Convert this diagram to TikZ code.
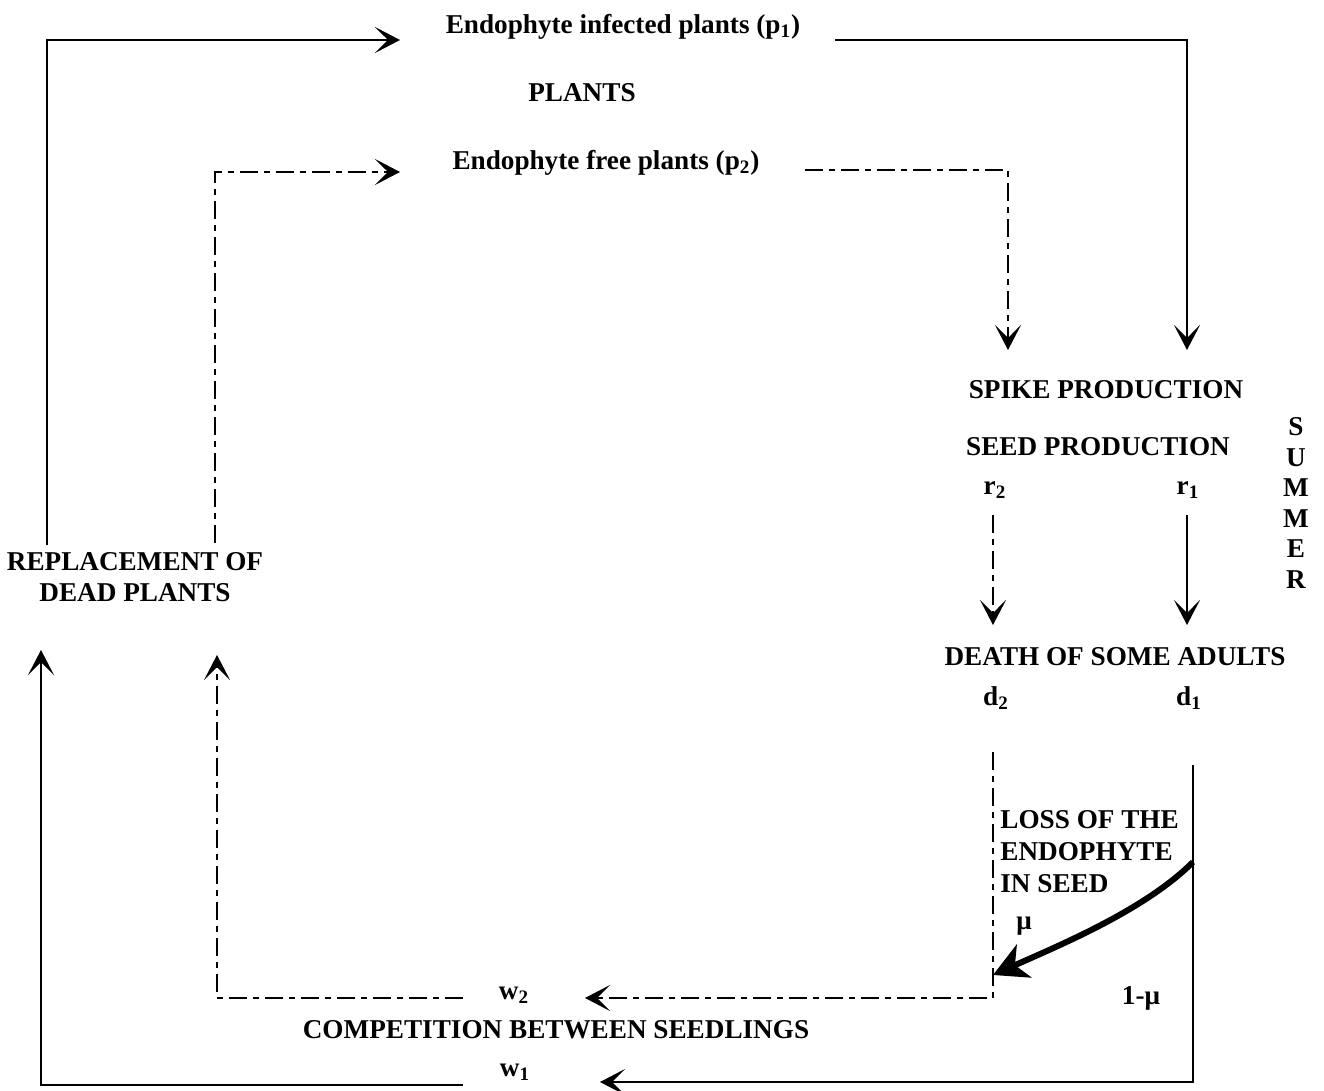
\documentclass[tikz,border=0pt]{standalone}
\usepackage{fontspec}
\setmainfont{Liberation Serif}
\usetikzlibrary{arrows.meta}

\begin{document}
\begin{tikzpicture}[x=0.5pt, y=-0.5pt,
	lbl/.style={font=\bfseries\fontsize{13.6}{15.3}\selectfont, inner sep=1pt},
	solidln/.style={line width=0.9pt},
	dashln/.style={line width=0.9pt, dash pattern=on 9pt off 3pt on 3pt off 3pt},
	tip/.style={-{Stealth[length=12.5pt, width=13pt, inset=6.5pt]}}]
	\useasboundingbox (0,0) rectangle (1324,1091);

	%Nodes
	\node[lbl] (infected) at (623,27) {Endophyte infected plants (p\textsubscript{1})};
	\node[lbl] (plants) at (582,93) {PLANTS};
	\node[lbl] (free) at (606,163) {Endophyte free plants (p\textsubscript{2})};
	\node[lbl] (spike) at (1106,390) {SPIKE PRODUCTION};
	\node[lbl] (seed) at (1098,447) {SEED PRODUCTION};
	\node[lbl] (r2) at (995,490) {r\textsubscript{2}};
	\node[lbl] (r1) at (1188,490) {r\textsubscript{1}};
	\node[lbl, align=center] (summer) at (1296,503) {S\\U\\M\\M\\E\\R};
	\node[lbl] (death) at (1115,657) {DEATH OF SOME ADULTS};
	\node[lbl] (d2) at (996,698) {d\textsubscript{2}};
	\node[lbl] (d1) at (1189,698) {d\textsubscript{1}};
	\node[lbl, align=left, anchor=west, font=\bfseries\fontsize{13.6}{16}\selectfont] (loss) at (998,852) {LOSS OF THE\\ENDOPHYTE\\IN SEED};
	\node[lbl] (mu) at (1024,926) {μ};
	\node[lbl] (notmu) at (1141,998) {1-μ};
	\node[lbl] (w2) at (514,995) {w\textsubscript{2}};
	\node[lbl] (comp) at (556,1030) {COMPETITION BETWEEN SEEDLINGS};
	\node[lbl] (w1) at (515,1072) {w\textsubscript{1}};
	\node[lbl, align=center] (repl) at (135,577) {REPLACEMENT OF\\DEAD PLANTS};

	%Ends of the connectors
	\coordinate (inA) at (400,40);
	\coordinate (inB) at (835,40);
	\coordinate (frA) at (400,172);
	\coordinate (frB) at (805,170);
	\coordinate (spA) at (1008,350);
	\coordinate (spB) at (1187,350);
	\coordinate (rA) at (993,515);
	\coordinate (rB) at (1187,515);
	\coordinate (deA) at (993,625);
	\coordinate (deB) at (1187,625);
	\coordinate (dA) at (993,752);
	\coordinate (dB) at (1193,765);
	\coordinate (wA) at (585,998);
	\coordinate (wB) at (600,1082);
	\coordinate (cA) at (463,998);
	\coordinate (cB) at (463,1085);
	\coordinate (reA) at (217,655);
	\coordinate (reB) at (41,650);
	\coordinate (upA) at (215,543);
	\coordinate (upB) at (47,545);
	\coordinate (lossA) at (1193,862);
	\coordinate (lossB) at (993,975);

	%Connectors
	\draw[solidln, tip] (upB) |- (inA);
	\draw[solidln, tip] (inB) -| (spB);
	\draw[dashln, tip] (upA) |- (frA);
	\draw[dashln, tip] (frB) -| (spA);
	\draw[dashln, tip] (rA) -- (deA);
	\draw[solidln, tip] (rB) -- (deB);
	\draw[dashln, tip] (dA) |- (wA);
	\draw[solidln, tip] (dB) |- (wB);
	\draw[dashln, tip] (cA) -| (reA);
	\draw[solidln, tip] (cB) -| (reB);
	\draw[line width=3pt, -{Stealth[length=17pt, width=18pt, inset=5pt]}] (lossA) .. controls (1145,910) and (1060,945) .. (lossB);
\end{tikzpicture}
\end{document}
